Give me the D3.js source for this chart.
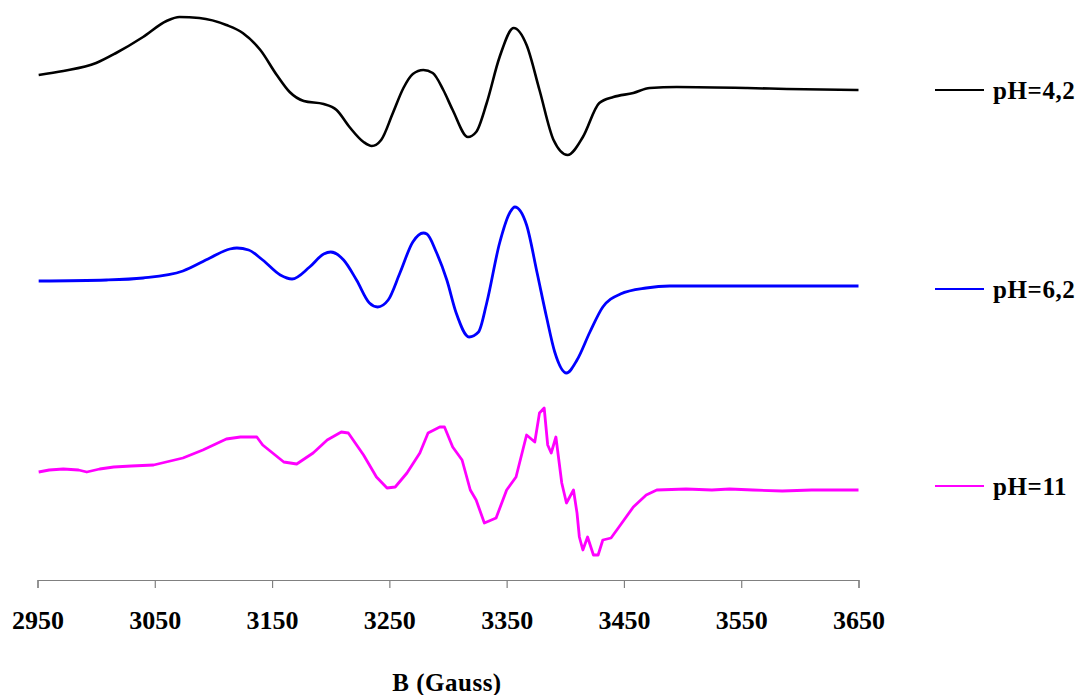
<!DOCTYPE html>
<html><head><meta charset="utf-8">
<script src="https://cdn.jsdelivr.net/npm/d3@7"></script>
<style>
html,body{margin:0;padding:0;background:#fff;}
svg{display:block;}
text{font-family:"Liberation Serif","Times New Roman",serif;font-weight:bold;fill:#000;}
</style></head>
<body>
<svg id="chart" width="1082" height="695"></svg>
<script>
// X axis ticks (B, Gauss)
const xTicks = [2950, 3050, 3150, 3250, 3350, 3450, 3550, 3650];
const xLabel = "B (Gauss)";
const seriesNames = ["pH=4,2", "pH=6,2", "pH=11"];
const seriesColors = ["#000000", "#0000FF", "#FF00FF"];

// EPR spectra: [B (Gauss), intensity (arb. units, offset stacked)]
const ph42 = [
  [2951,505],[2972,509],[3000,517],[3017,527],[3040,543],[3060,559],[3071,563],[3088,562],
  [3111,555],[3125,547],[3140,530],[3154,505],[3165,488],[3177,479],[3194,476],[3205,470],
  [3216,453],[3228,438],[3235,434],[3243,440],[3253,467],[3262,492],[3270,506],[3279,510],
  [3287,507],[3296,490],[3304,470],[3317,443],[3324,448],[3333,477],[3344,523],[3356,552],
  [3367,535],[3378,490],[3390,440],[3402,425],[3415,443],[3429,477],[3441,483],[3458,487],
  [3472,492],[3495,493],[3555,492],[3589,491],[3650,490]
];
const ph62 = [
  [2951,299],[3009,300],[3040,302],[3074,309],[3097,322],[3114,331],[3120,332],[3130,330],[3142,320],
  [3157,305],[3167,301],[3182,313],[3194,326],[3200,328],[3211,320],[3222,300],[3233,277],
  [3240,273],[3249,280],[3259,307],[3270,338],[3279,347],[3282,346],[3290,328],[3299,300],
  [3307,267],[3318,243],[3326,248],[3333,277],[3344,337],[3353,368],[3357,373],[3367,355],
  [3376,307],[3384,263],[3391,228],[3401,207],[3410,220],[3421,248],[3432,273],[3447,286],
  [3469,292],[3489,294],[3650,294]
];
const ph11 = [
  [2951,108],[2960,110],[2972,111],[2985,110],[2992,108],[3003,111],[3015,113],[3030,114],
  [3049,115],[3074,122],[3091,130],[3111,141],[3123,143],[3137,143],[3142,135],[3160,118],
  [3171,116],[3185,127],[3197,140],[3209,148],[3215,147],[3228,125],[3239,103],[3248,92],
  [3255,93],[3265,107],[3276,127],[3283,147],[3293,153],[3297,153],[3304,133],[3312,120],
  [3319,90],[3324,80],[3331,57],[3341,62],[3350,90],[3358,103],[3367,145],[3374,138],
  [3378,167],[3382,172],[3385,135],[3388,127],[3392,143],[3397,97],[3401,77],[3407,90],
  [3410,67],[3412,43],[3415,30],[3419,43],[3424,25],[3428,25],[3432,40],[3439,42],
  [3447,55],[3458,73],[3469,85],[3478,90],[3503,91],[3525,90],[3540,91],[3560,90],
  [3585,89],[3610,90],[3630,90],[3650,90]
];
const allSeries = [ph42, ph62, ph11];

const svg = d3.select("#chart");
const x = d3.scaleLinear().domain([2950, 3650]).range([37.5, 858.5]);
const y = d3.scaleLinear().domain([0, 580]).range([580, 0]);

// axis
const axisG = svg.append("g").attr("transform", "translate(0,580)")
  .call(d3.axisBottom(x).tickValues(xTicks).tickSize(8).tickPadding(23).tickFormat(d3.format("d")));
axisG.select(".domain").attr("stroke", "#808080").attr("stroke-width", 1.2);
axisG.selectAll(".tick line").attr("stroke", "#808080").attr("stroke-width", 1.2);
axisG.selectAll(".tick text").attr("font-size", 26).attr("font-family", "Liberation Serif").attr("font-weight", "bold").attr("fill", "#000");

svg.append("text").attr("x", 447).attr("y", 691).attr("text-anchor", "middle")
  .attr("font-size", 25).attr("letter-spacing", 0.5).text(xLabel);

const curves = [d3.curveMonotoneX, d3.curveMonotoneX, d3.curveLinear];
const widths = [2.6, 2.8, 2.8];
allSeries.forEach((s, i) => {
  const line = d3.line().x(d => x(d[0])).y(d => y(d[1])).curve(curves[i]);
  svg.append("path").datum(s).attr("d", line).attr("fill", "none")
    .attr("stroke", seriesColors[i]).attr("stroke-width", widths[i]).attr("stroke-linejoin", "round");
});

// legend
const legY = [90, 289, 486];
seriesNames.forEach((n, i) => {
  svg.append("line").attr("x1", 935).attr("x2", 984).attr("y1", legY[i]).attr("y2", legY[i])
    .attr("stroke", seriesColors[i]).attr("stroke-width", 2);
  svg.append("text").attr("x", 993).attr("y", legY[i] + 9).attr("font-size", 25)
    .attr("letter-spacing", 0.6).text(n);
});
</script>
</body></html>
